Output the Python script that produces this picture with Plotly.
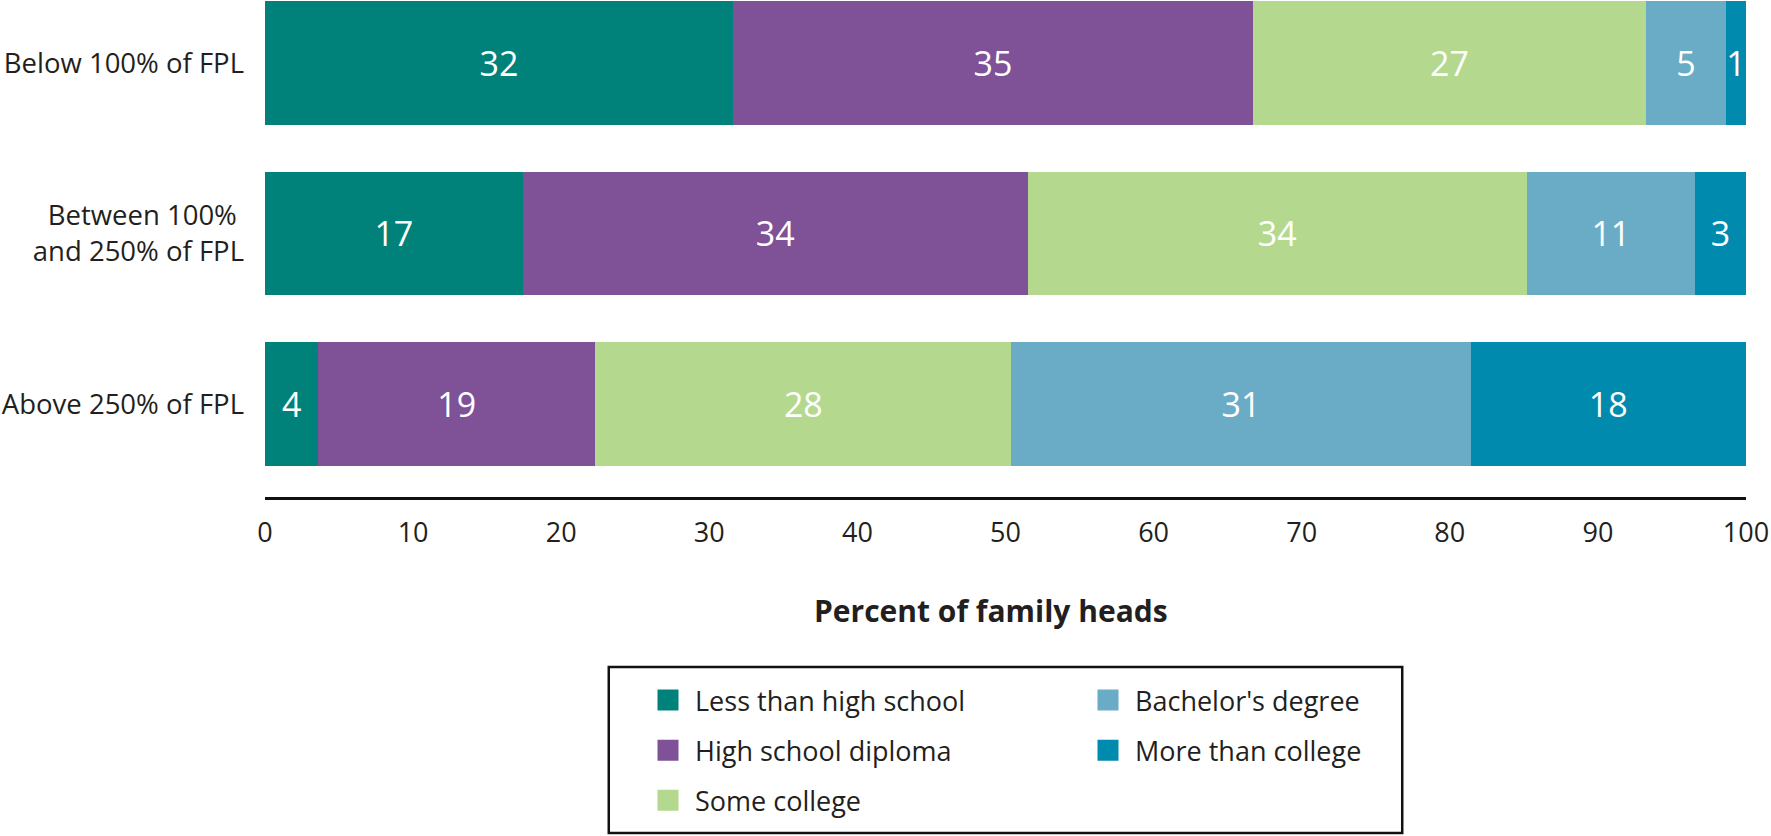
import plotly.graph_objects as go

# Categories (bottom to top on the axis)
categories = ["Above 250% of FPL", "Between 100%\u00a0<br>and 250% of FPL", "Below 100% of FPL"]

series_names = ["Less than high school", "High school diploma", "Some college",
                "Bachelor's degree", "More than college"]
colors = ["#00827a", "#7f5197", "#b4d98e", "#6aacc6", "#008aad"]

# Bar widths (percent of family heads), per series, ordered as categories
less_than_hs = [3.6, 17.4, 31.6]
hs_diploma = [18.7, 34.1, 35.1]
some_college = [28.1, 33.7, 26.55]
bachelors = [31.0, 11.35, 5.4]
more_than_college = [18.6, 3.45, 1.35]

# Printed labels on the bars
lbl_less_than_hs = [4, 17, 32]
lbl_hs_diploma = [19, 34, 35]
lbl_some_college = [28, 34, 27]
lbl_bachelors = [31, 11, 5]
lbl_more_than_college = [18, 3, 1]

x_ticks = [0, 10, 20, 30, 40, 50, 60, 70, 80, 90, 100]

values = [less_than_hs, hs_diploma, some_college, bachelors, more_than_college]
labels = [lbl_less_than_hs, lbl_hs_diploma, lbl_some_college, lbl_bachelors, lbl_more_than_college]

FONT = "Open Sans"
TXT = "#231f20"

fig = go.Figure()
for name, col, v, lb in zip(series_names, colors, values, labels):
    fig.add_trace(go.Bar(
        x=v, y=categories, orientation="h", name=name,
        marker=dict(color=col, line=dict(width=0)),
        text=[str(t) for t in lb], textposition="inside", insidetextanchor="middle",
        textfont=dict(family=FONT, size=34, color="white"),
        width=0.727, showlegend=False, hoverinfo="skip",
    ))

# legend entries (column-major: first 3 in legend, last 2 in legend2)
for i, (name, col) in enumerate(zip(series_names, colors)):
    fig.add_trace(go.Scatter(
        x=[None], y=[None], mode="markers", name="\u00a0" + name,
        marker=dict(symbol="square", size=16, color=col, line=dict(color=col, width=5)),
        legend="legend" if i < 3 else "legend2", legendgroup=name, showlegend=True,
        hoverinfo="skip",
    ))

legend_common = dict(
    font=dict(family=FONT, size=27, color=TXT), bgcolor="rgba(0,0,0,0)",
    borderwidth=0, xref="container", yref="container", xanchor="left", yanchor="top",
    traceorder="grouped", tracegroupgap=12, itemclick=False,
)

fig.update_layout(
    width=1771, height=836,
    margin=dict(l=265, r=25, t=0, b=339, pad=0, autoexpand=False),
    paper_bgcolor="white", plot_bgcolor="white",
    barmode="stack", bargap=0.27,
    uniformtext=dict(mode="show", minsize=34),
    font=dict(family=FONT, color=TXT),
    xaxis=dict(range=[0, 100], tickvals=x_ticks, showgrid=False, zeroline=False,
               showline=True, linewidth=3, linecolor="#111111", ticks="",
               ticklabelstandoff=10, tickfont=dict(family=FONT, size=27, color=TXT),
               fixedrange=True, automargin=False),
    yaxis=dict(type="category", categoryorder="array", categoryarray=categories,
               range=[-0.5455, 2.3695], showgrid=False, zeroline=False, showline=False,
               ticks="", ticklabelstandoff=20, tickfont=dict(family=FONT, size=27.5, color=TXT),
               fixedrange=True, automargin=False),
    legend=dict(x=648 / 1771, y=1 - 676 / 836, **legend_common),
    legend2=dict(x=1088 / 1771, y=1 - 676 / 836, **legend_common),
    annotations=[dict(text="<b>Percent of family heads</b>", xref="paper", yref="paper",
                      x=(991 - 265) / 1482, y=(497 - 610) / 497, xanchor="center", yanchor="middle",
                      showarrow=False, font=dict(family=FONT, size=30, color=TXT))],
    shapes=[dict(type="rect", xref="paper", yref="paper",
                 x0=(609 - 265) / 1482, x1=(1403 - 265) / 1482,
                 y0=(497 - 833) / 497, y1=(497 - 667) / 497,
                 line=dict(color="#111111", width=2.5), fillcolor="rgba(0,0,0,0)")],
)

fig.write_html("out.html", config={"displayModeBar": False},
               post_script="document.body.style.margin='0px';")
